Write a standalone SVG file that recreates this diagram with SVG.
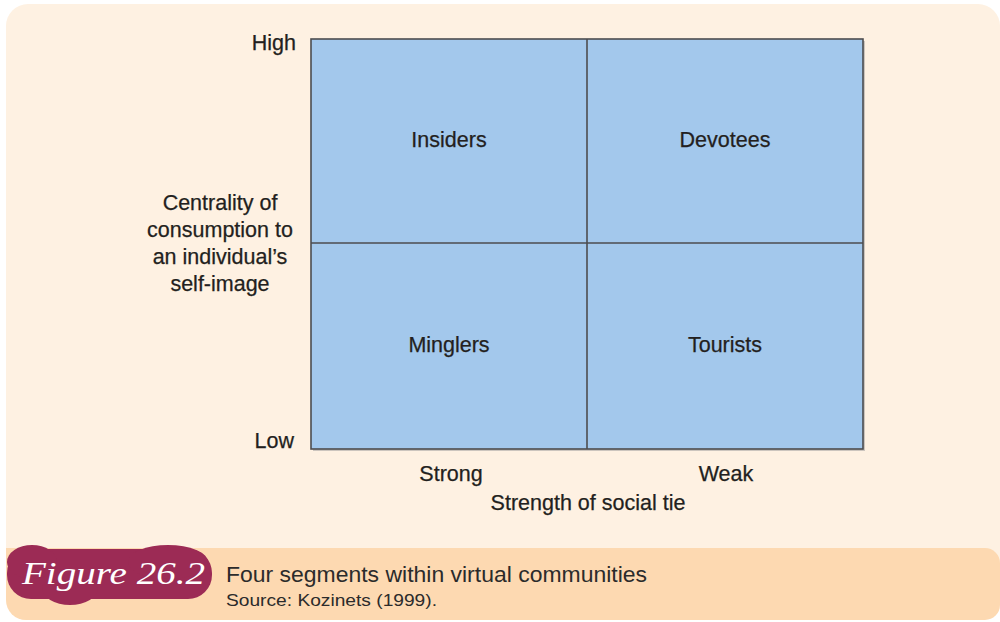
<svg xmlns="http://www.w3.org/2000/svg" width="1000" height="622" viewBox="0 0 1000 622">
<defs>
<style>
.t{font-family:"Liberation Sans",Arial,sans-serif;font-size:21.5px;fill:#231f20;stroke:#231f20;stroke-width:0.25}
.c{font-family:"Liberation Sans",Arial,sans-serif;fill:#2b2b2b}
.m{text-anchor:middle}
.e{text-anchor:end}
.cell{fill:#a3c8ec}
.ln{stroke:#4d4d4f;stroke-width:1.6;fill:none}
</style>
</defs>
<rect x="0" y="0" width="1000" height="622" fill="#ffffff"/>
<rect x="6" y="4" width="994" height="616" rx="22" fill="#fef1e2"/>
<path d="M6 548 H985 A15 15 0 0 1 1000 563 V605 A15 15 0 0 1 985 620 H26 A20 20 0 0 1 6 600 Z" fill="#fdd9b1"/>
<g id="badge">
<rect x="7" y="549" width="205" height="50" rx="24" fill="#9c2b55"/>
<ellipse cx="32" cy="562" rx="25" ry="17" fill="#9c2b55"/>
<ellipse cx="168" cy="562" rx="40" ry="17" fill="#9c2b55"/>
<ellipse cx="70" cy="588" rx="28" ry="17" fill="#9c2b55"/>
<text x="22" y="584" font-family="Liberation Serif,serif" font-style="italic" font-size="32" fill="#ffffff" textLength="183" lengthAdjust="spacingAndGlyphs">Figure 26.2</text>
</g>
<g id="caption">
<text x="226" y="582" class="c" font-size="22" textLength="421" lengthAdjust="spacingAndGlyphs">Four segments within virtual communities</text>
<text x="226" y="606" class="c" font-size="17" textLength="211" lengthAdjust="spacingAndGlyphs">Source: Kozinets (1999).</text>
</g>
<g id="grid">
<rect x="313" y="41" width="552" height="410" fill="#9a9a9a" opacity="0.5"/>
<rect id="insiders-cell" class="cell" x="311" y="39" width="276" height="204"/>
<rect id="devotees-cell" class="cell" x="587" y="39" width="276" height="204"/>
<rect id="minglers-cell" class="cell" x="311" y="243" width="276" height="206"/>
<rect id="tourists-cell" class="cell" x="587" y="243" width="276" height="206"/>
<rect class="ln" x="311" y="39" width="552" height="410"/>
</g>
<g id="connectors">
<line class="ln" x1="587" y1="39" x2="587" y2="449"/>
<line class="ln" x1="311" y1="243" x2="863" y2="243"/>
</g>
<g id="node-insiders"><text class="t m" x="449" y="147">Insiders</text></g>
<g id="node-devotees"><text class="t m" x="725" y="147">Devotees</text></g>
<g id="node-minglers"><text class="t m" x="449" y="352">Minglers</text></g>
<g id="node-tourists"><text class="t m" x="725" y="352">Tourists</text></g>
<g id="axis-y">
<text class="t e" x="296" y="50">High</text>
<text class="t e" x="294" y="448">Low</text>
<text class="t m" x="220" y="210">Centrality of</text>
<text class="t m" x="220" y="237">consumption to</text>
<text class="t m" x="220" y="264">an individual’s</text>
<text class="t m" x="220" y="291">self-image</text>
</g>
<g id="axis-x">
<text class="t m" x="451" y="481">Strong</text>
<text class="t m" x="726" y="481">Weak</text>
<text class="t m" x="588" y="510">Strength of social tie</text>
</g>
</svg>
